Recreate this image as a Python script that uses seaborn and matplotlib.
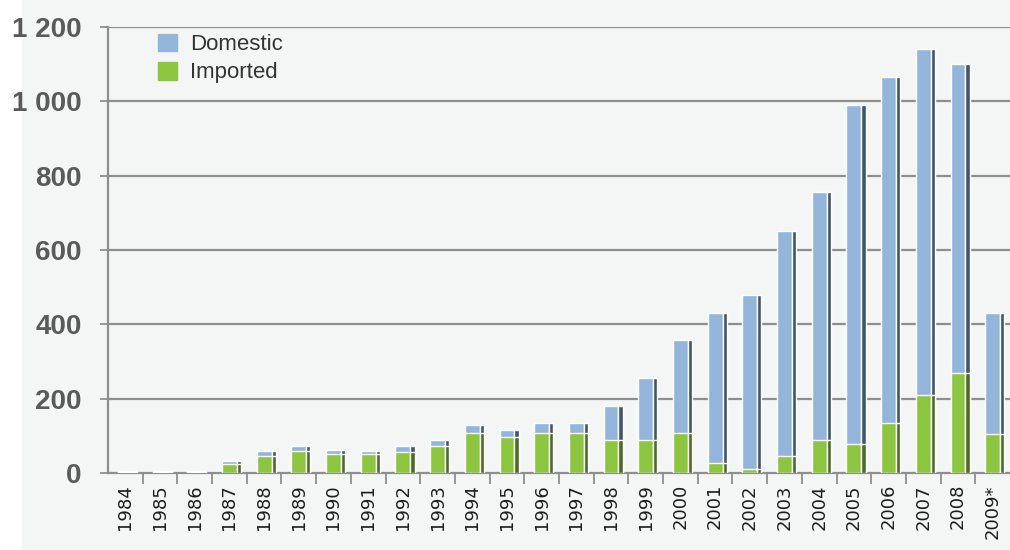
import matplotlib
matplotlib.use("Agg")
import matplotlib.pyplot as plt
from matplotlib.ticker import FuncFormatter, FixedLocator
from matplotlib.patches import Rectangle
import seaborn as sns
import pandas as pd
import numpy as np

years = ["1984", "1985", "1986", "1987", "1988", "1989", "1990", "1991", "1992",
         "1993", "1994", "1995", "1996", "1997", "1998", "1999", "2000", "2001",
         "2002", "2003", "2004", "2005", "2006", "2007", "2008", "2009*"]
imported = [2, 2, 2, 25, 45, 58, 50, 50, 57, 72, 108, 97, 108, 108, 88, 88, 108,
            28, 12, 47, 88, 78, 135, 210, 270, 105]
domestic = [3, 3, 3, 7, 13, 15, 13, 10, 16, 16, 22, 20, 27, 27, 92, 167, 250,
            402, 468, 603, 667, 912, 930, 930, 830, 325]
yticks = [0, 200, 400, 600, 800, 1000, 1200]

df = pd.DataFrame({"year": years, "domestic": domestic, "imported": imported})
df["total"] = df["domestic"] + df["imported"]

bg = "#f4f6f6"
blue, blue_side = "#93b5d9", "#3f5568"
green, green_side = "#8cc540", "#4d6b27"
grid_c = "#8e8e8e"

sns.set_theme(style="white")
plt.rcParams["font.family"] = ["Liberation Sans", "DejaVu Sans"]

fig = plt.figure(figsize=(10.1, 5.5), dpi=100, facecolor=bg)
fig.add_artist(Rectangle((0, 0), 22 / 1010, 1, transform=fig.transFigure,
                         facecolor="white", edgecolor="none", zorder=-5))
ax = fig.add_axes([108 / 1010, 77 / 550, 902 / 1010, 446 / 550])
ax.set_facecolor(bg)

for v in yticks[1:]:
    ax.axhline(v, color=grid_c, lw=1.6, zorder=0)

# front faces
sns.barplot(data=df, x="year", y="total", color=blue, width=0.43,
            saturation=1, ax=ax, zorder=3)
sns.barplot(data=df, x="year", y="imported", color=green, width=0.43,
            saturation=1, ax=ax, zorder=4)
# darker side faces for the 3D look
pos = np.arange(len(years))
ax.bar(pos + 0.275, df["total"], width=0.12, color=blue_side, zorder=3)
ax.bar(pos + 0.275, df["imported"], width=0.12, color=green_side, zorder=4)

ax.set_xlim(-0.5, len(years) - 0.5)
ax.set_ylim(0, 1200)
ax.set_xlabel("")
ax.set_ylabel("")

ax.set_yticks(yticks)
ax.yaxis.set_major_formatter(FuncFormatter(lambda v, p: f"{v:,.0f}".replace(",", " ")))
ax.tick_params(axis="y", which="major", left=True, length=6, width=1.3,
               color=grid_c, pad=13, labelsize=20, labelcolor="#5a5a5a")
for t in ax.get_yticklabels():
    t.set_fontweight("bold")

ax.set_xticks(pos)
ax.set_xticklabels(years, rotation=90, fontsize=13, color="#1e1e1e",
                   family="DejaVu Sans")
ax.tick_params(axis="x", which="major", length=0, pad=8)
ax.xaxis.set_minor_locator(FixedLocator(pos[1:] - 0.5))
ax.tick_params(axis="x", which="minor", bottom=True, length=8, width=1.3,
               color=grid_c)

for s in ["top", "right"]:
    ax.spines[s].set_visible(False)
for s in ["left", "bottom"]:
    ax.spines[s].set_color(grid_c)
    ax.spines[s].set_linewidth(1.6)

handles = [Rectangle((0, 0), 1, 1, color=blue), Rectangle((0, 0), 1, 1, color=green)]
ax.legend(handles, ["Domestic", "Imported"], loc="upper left",
          bbox_to_anchor=(0.033, 1.03), frameon=False, fontsize=16,
          handlelength=0.85, handleheight=0.85, handletextpad=0.6,
          labelspacing=0.3, labelcolor="#333333")

fig.savefig("out.png", dpi=100, facecolor=bg)
